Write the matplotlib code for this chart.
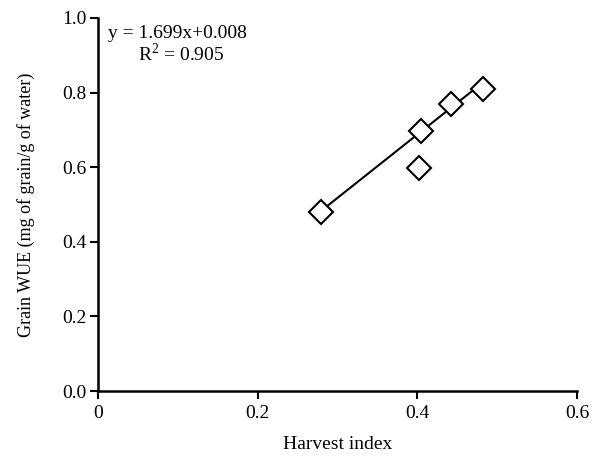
import numpy as np
import matplotlib
matplotlib.use("Agg")
import matplotlib.pyplot as plt

plt.rcParams['font.family'] = ['Liberation Serif', 'DejaVu Serif']

harvest_index = [0.279, 0.402, 0.405, 0.442, 0.482]
grain_wue = [0.480, 0.598, 0.697, 0.770, 0.810]
slope, intercept = 1.699, 0.008
r2 = 0.905

fig = plt.figure(figsize=(6, 4.58), dpi=100)
ax = fig.add_axes([0.163, 0.146, 0.799, 0.815])

xs = np.array([min(harvest_index), max(harvest_index)])
ax.plot(xs, slope*xs+intercept, color='black', lw=1.5, zorder=1)
ax.plot(harvest_index, grain_wue, 'D', ms=12, mfc='white', mec='black', mew=1.5, zorder=2)

ax.set_xlim(0, 0.6)
ax.set_ylim(0, 1.0)
ax.set_xticks([0, 0.2, 0.4, 0.6])
ax.set_xticklabels(['0', '0.2', '0.4', '0.6'])
ax.set_yticks(np.arange(0, 1.01, 0.2))
ax.set_yticklabels(['%.1f' % v for v in np.arange(0, 1.01, 0.2)])
ax.spines['top'].set_visible(False)
ax.spines['right'].set_visible(False)
for s in ['left', 'bottom']:
    ax.spines[s].set_linewidth(1.8)
ax.tick_params(direction='out', length=6, width=1.5, labelsize=14)
ax.tick_params(axis='x', pad=4)
ax.tick_params(axis='y', pad=2)

ax.set_xlabel('Harvest index', fontsize=14, labelpad=10)
ax.set_ylabel('Grain WUE (mg of grain/g of water)', fontsize=13, labelpad=20)

ax.text(0.022, 0.945, 'y = %.3fx+%.3f' % (slope, intercept), fontsize=14, transform=ax.transAxes)
ax.text(0.084, 0.885, 'R$^{\\mathregular{2}}$ = %.3f' % r2, fontsize=14, transform=ax.transAxes)

plt.savefig('out.png', dpi=100)
